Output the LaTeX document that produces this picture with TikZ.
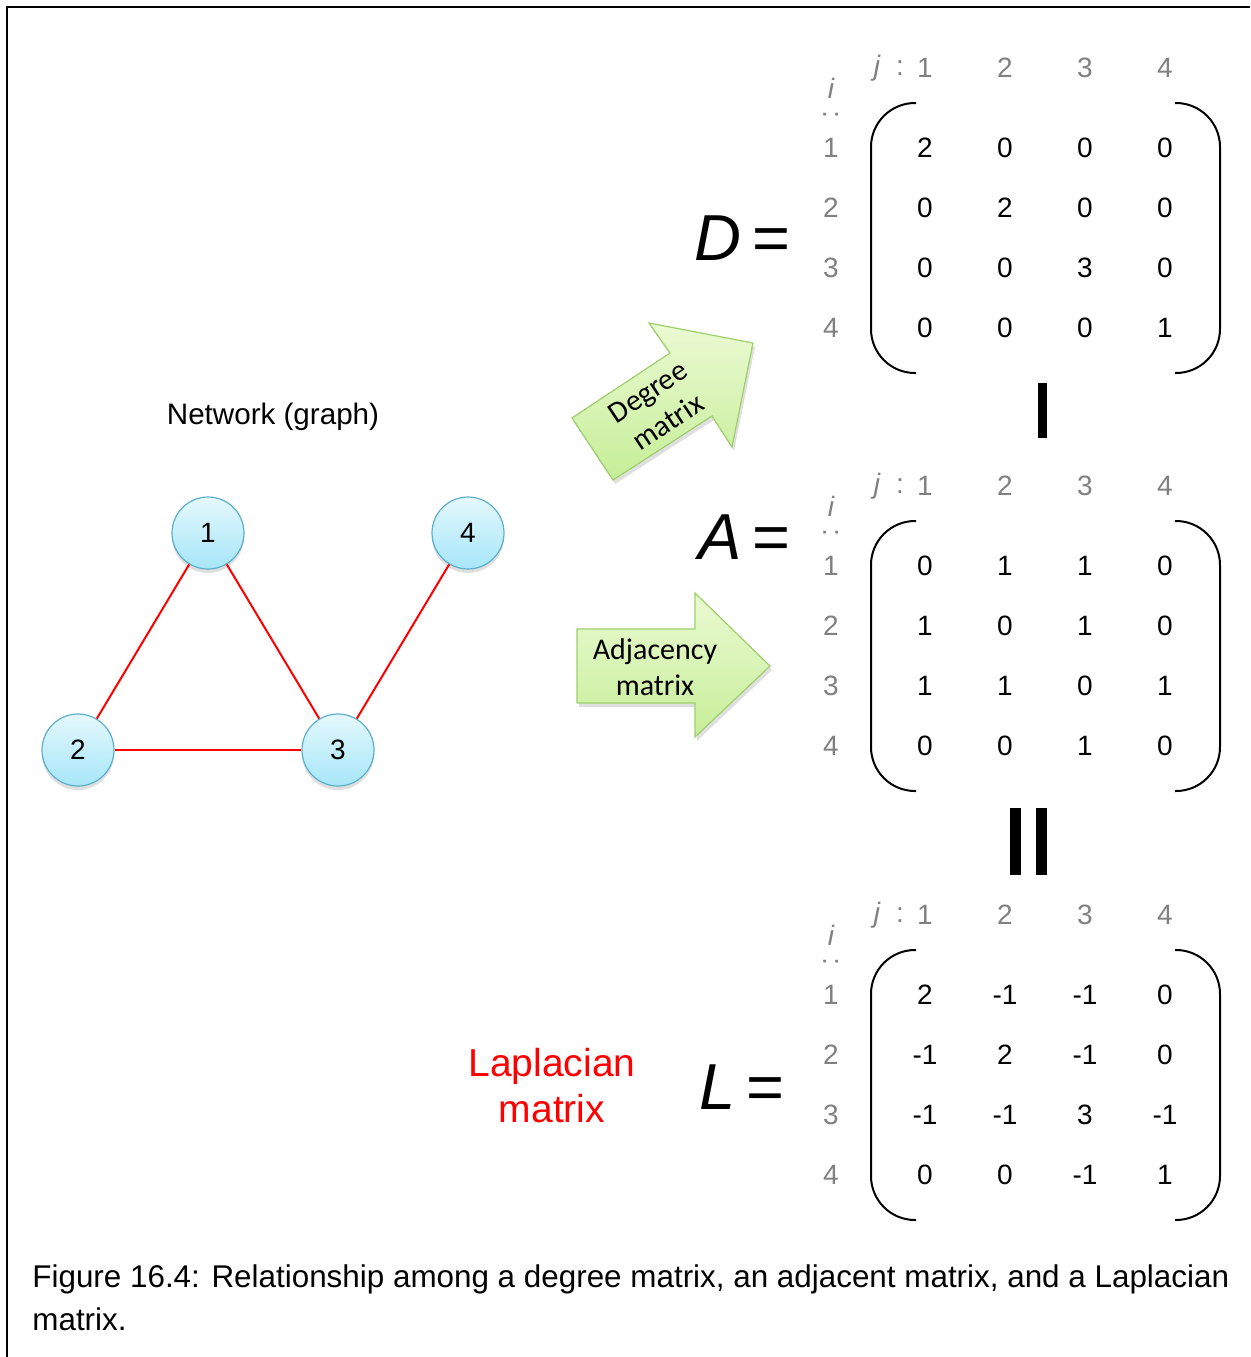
\documentclass[tikz,border=0pt]{standalone}
\usepackage{fontspec}
\setmainfont{Liberation Sans}
\newfontfamily\calibri{Carlito}
\usetikzlibrary{positioning,shadows}

\definecolor{nodetop}{HTML}{E4F8FD}
\definecolor{nodeblue}{HTML}{A6E6F8}
\definecolor{nodeline}{HTML}{5BAFCB}
\definecolor{arrowtop}{HTML}{EBFAD3}
\definecolor{arrowgreen}{HTML}{C6EE98}
\definecolor{arrowline}{HTML}{9ECF6B}
\definecolor{idxgray}{HTML}{808080}

% one matrix block: name, top y, rows
\newcommand\matblock[3]{%
  \node[idx] (#1-j)   at (877,#2) {\itshape j};
  \node[idx] (#1-col) at (900,#2) {:};
  \foreach \c in {1,...,4}
    \node[idx] (#1-h\c) at ({845+80*\c},#2) {\c};
  \node[idx] (#1-i)   at (831,#2+20) {\itshape i};
  \node[idx, rotate=90] (#1-dots) at (831,#2+47) {:};
  \foreach \r in {1,...,4}
    \node[idx] (#1-r\r) at (831,{#2+20+60*\r}) {\r};
  \foreach \row [count=\r] in {#3}
    \foreach \v [count=\c] in \row
      \node[entry] (#1-\r-\c) at ({845+80*\c},{#2+20+60*\r}) {\v};
  \draw[paren] (916,#2+35) -| (871,#2+305) -- (916,#2+305);
  \draw[paren] (1175,#2+35) -| (1220,#2+305) -- (1175,#2+305);
}

\begin{document}
\begin{tikzpicture}[x=0.5pt, y=-0.5pt,
    vertex/.style ={circle, draw=nodeline, line width=0.6pt, top color=nodetop,
                    bottom color=nodeblue, minimum size=36pt, inner sep=0pt,
                    font=\fontsize{14}{16}\selectfont,
                    drop shadow={shadow xshift=0pt, shadow yshift=-2pt, opacity=0.25}},
    edge/.style   ={red, line width=1pt},
    entry/.style  ={font=\fontsize{14}{16}\selectfont, inner sep=0pt},
    idx/.style    ={entry, text=idxgray},
    bigsym/.style ={font=\fontsize{32.5}{36}\selectfont, inner sep=0pt, anchor=east},
    paren/.style  ={line width=1pt, rounded corners=22pt},
    bar/.style    ={fill=black},
    blockarrow/.style={draw=arrowline, line width=0.6pt, top color=arrowtop,
                    bottom color=arrowgreen,
                    drop shadow={shadow xshift=1pt, shadow yshift=-2pt, opacity=0.25}},
    arrowtext/.style={font=\calibri\fontsize{15}{18}\selectfont, align=center, inner sep=0pt}]
  \useasboundingbox (0,0) rectangle (1250,1357);
  % frame
  \draw[line width=0.7pt] (7,1357) -- (7,7) -- (1250,7);

  % network
  \node[font=\fontsize{14.8}{17}\selectfont] (title) at (273,417) {Network (graph)};
  \node[vertex] (n1) at (208,533) {1};
  \node[vertex] (n2) at (78,750)  {2};
  \node[vertex] (n3) at (338,750) {3};
  \node[vertex] (n4) at (468,533) {4};
  \draw[edge] (n1) -- (n2);
  \draw[edge] (n1) -- (n3);
  \draw[edge] (n2) -- (n3);
  \draw[edge] (n3) -- (n4);

  % block arrows
  \path[blockarrow] (572,418) -- (670,353) -- (649,323) -- (753,343) -- (732,447)
    -- (712,416) -- (613,480) -- cycle;
  \node[arrowtext, rotate=33.6] (degtxt) at (658,407) {Degree\\matrix};
  \path[blockarrow] (577,629) -- (695,629) -- (695,593) -- (770,666) -- (695,737)
    -- (695,703) -- (577,703) -- cycle;
  \node[arrowtext] (adjtxt) at (655,667) {Adjacency\\matrix};

  % matrices
  \node[bigsym] (Dsym) at (791,238)  {\textit{D}\,=};
  \matblock{D}{68}{{2,0,0,0},{0,2,0,0},{0,0,3,0},{0,0,0,1}}
  \node[bigsym] (Asym) at (791,537)  {\textit{A}\,=};
  \matblock{A}{486}{{0,1,1,0},{1,0,1,0},{1,1,0,1},{0,0,1,0}}
  \node[bigsym] (Lsym) at (785,1087) {\textit{L}\,=};
  \matblock{L}{915}{{2,-1,-1,0},{-1,2,-1,0},{-1,-1,3,-1},{0,0,-1,1}}

  % minus and equals between the blocks
  \fill[bar] (1038,383) rectangle (1047,438);
  \fill[bar] (1010,808) rectangle (1021,875);
  \fill[bar] (1036,808) rectangle (1047,875);

  \node[text=red, align=center, font=\fontsize{19.5}{23}\selectfont] (lap) at (552,1086) {Laplacian\\matrix};

  % caption
  \node[anchor=base west, inner sep=0pt, font=\fontsize{15.7}{18}\selectfont] (cap1) at (32,1287)
    {Figure 16.4: Relationship among a degree matrix, an adjacent matrix, and a Laplacian};
  \node[anchor=base west, inner sep=0pt, font=\fontsize{15.7}{18}\selectfont] (cap2) at (32,1330)
    {matrix.};
\end{tikzpicture}
\end{document}
